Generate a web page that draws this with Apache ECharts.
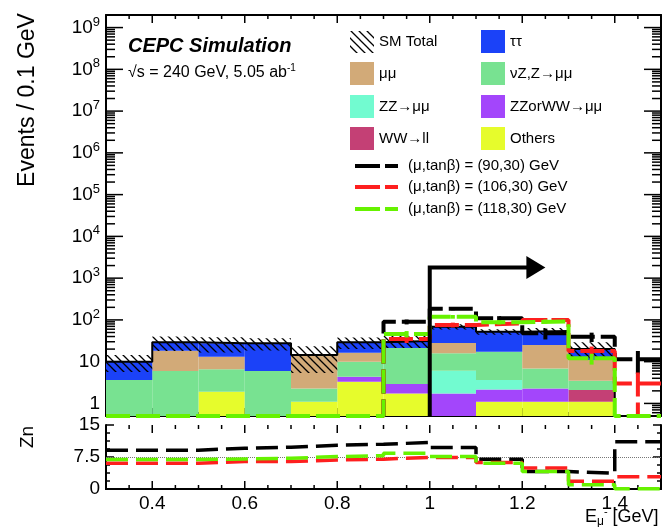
<!DOCTYPE html>
<html><head><meta charset="utf-8">
<script src="https://cdn.jsdelivr.net/npm/echarts@6/dist/echarts.min.js"></script>
<style>html,body{margin:0;padding:0;background:#fff}#c{width:662px;height:527px}</style>
</head><body><div id="c"></div>
<script>
// ---------- data ----------
const binEdges = [0.3,0.4,0.5,0.6,0.7,0.8,0.9,1.0,1.1,1.2,1.3,1.4,1.5];
// stacked backgrounds (bottom -> top)
const others  = [0,0,1.9,0,1.09,3.3,1.72,0,1.09,1.09,1.09,0];
const wwll    = [0,0,0,0,0,0,0,0,0,0,1.0,0];
const zzorww  = [0,0,0,0,0,1.04,1.18,1.74,1.08,1.2,0,0];
const zzmumu  = [0,0,0,0,0,0,0,4.31,1.45,0,0,0];
const nuZ     = [3.62,5.95,4.64,5.95,1.2,5.66,18.3,9.95,13.7,4.6,1.4,0];
const mumu    = [0,12.35,6.56,0,12.1,6.3,0,11.8,0,18.1,7.5,0];
const tautau  = [6.4,10.7,14.4,21.5,0,12.7,10.1,40.9,34.8,29,9,0];
const smErr   = [4.4,11,11,9,9,9,10,10,8,10,9,0];
// signals
const sig90   = [0,0,0,0,0,0,90,185,109,48,39.5,11.5];
const sig106  = [0,0,0,0,0,0,35,76,83,100,18,3.0];
const sig118  = [0,0,0,0,0,0,46,119,88,92,12,0];
const sig90Err  = [0,0,0,0,0,0,12,15,14,14,10,6.5];
const sig106Err = [0,0,0,0,0,0,7,10,10,11,5,2.5];
const sig118Err = [0,0,0,0,0,0,8,12,10,10,3.5,0];
// significance panel
const zn90  = [9.1,9.1,9.55,9.8,10.25,10.5,10.9,9.7,7.0,4.1,3.7,11.1];
const zn106 = [6.05,6.05,6.45,6.45,6.8,7.0,7.4,7.4,6.2,4.9,1.8,2.9];
const zn118 = [6.9,6.9,7.05,7.2,7.6,7.8,8.4,7.6,6.05,4.1,1.0,0.05];
const znRef = 7.5;
// cut arrow
const cutValue = 1.0, arrowY = 1800, arrowEnd = 1.25;
// axes / ticks
const xMajorTicks = [0.4,0.6,0.8,1.0,1.2,1.4];
const xMinorStep = 0.05;
const logMajorExp = [0,1,2,3,4,5,6,7,8,9];
const logMinorMult = [2,3,4,5,6,7,8,9];
const znMajorTicks = [0,7.5,15];
const znMinorStep = 1.875;
const YMIN = 0.5, YMAX = 2e9;

// ---------- styling ----------
const FONT = "'Liberation Sans', Arial, Helvetica, sans-serif";
const C = {
  others:'#e6fc2c', wwll:'#c44075', zzorww:'#a346fb', zzmumu:'#72fbd0',
  nuZ:'#78e291', mumu:'#d2aa78', tautau:'#1b42f8',
  s90:'#000000', s106:'#fe1f1f', s118:'#66f200'
};
const DASH = [24,6];
const TICK_W = 1.5;

function makeHatch(){
  const c = document.createElement('canvas'); c.width = 8; c.height = 8;
  const g = c.getContext('2d'); g.strokeStyle = '#000'; g.lineWidth = 1.3;
  g.beginPath(); g.moveTo(-2,-2); g.lineTo(10,10); g.moveTo(-2,6); g.lineTo(2,10); g.moveTo(6,-2); g.lineTo(10,2); g.stroke();
  return c;
}
const hatch = {image: makeHatch(), repeat: 'repeat'};

// ---------- build stacks ----------
const comps = [
  {vals: others, color: C.others}, {vals: wwll, color: C.wwll}, {vals: zzorww, color: C.zzorww},
  {vals: zzmumu, color: C.zzmumu}, {vals: nuZ, color: C.nuZ}, {vals: mumu, color: C.mumu}, {vals: tautau, color: C.tautau}
];
const cum = binEdges.slice(0,-1).map(() => 0);
comps.forEach(c => {
  c.data = c.vals.map((v,i) => { const lo = cum[i], hi = cum[i] + v; cum[i] = hi; return [binEdges[i], binEdges[i+1], lo, hi]; });
});
const smTotal = cum.slice();

function rectSeries(data, fill, z){
  return {type:'custom', xAxisIndex:0, yAxisIndex:0, z:z, silent:true, data:data,
    encode:{x:[0,1], y:[2,3]},
    renderItem:(p, api) => {
      const lo = Math.max(api.value(2), YMIN), hi = api.value(3);
      if (!(hi > lo)) return null;
      const a = api.coord([api.value(0), hi]), b = api.coord([api.value(1), lo]);
      return {type:'rect', shape:{x:a[0], y:a[1], width:b[0]-a[0], height:b[1]-a[1]}, style:{fill:fill, stroke:null}};
    }};
}
function stepData(vals, floor){
  const f = v => floor != null ? Math.max(v, floor) : v;
  const d = vals.map((v,i) => [binEdges[i], f(v)]);
  d.push([binEdges[binEdges.length-1], f(vals[vals.length-1])]);
  return d;
}
function stepLine(vals, color, width, dash, xi, yi, floor, z){
  return {type:'line', xAxisIndex:xi, yAxisIndex:yi, step:'end', data:stepData(vals, floor), showSymbol:false, symbol:'none',
    clip:false, silent:true, z:z, lineStyle:{color:color, width:width, type:dash, cap:'butt'}};
}
function errSeries(vals, errs, color, z){
  const d = [];
  vals.forEach((v,i) => { if (errs[i] > 0) d.push([(binEdges[i]+binEdges[i+1])/2, v, errs[i]]); });
  return {type:'custom', xAxisIndex:0, yAxisIndex:0, z:z, silent:true, data:d, encode:{x:0, y:1},
    renderItem:(p, api) => {
      const x = api.value(0), v = api.value(1), e = api.value(2);
      const a = api.coord([x, v + e]), b = api.coord([x, Math.max(v - e, YMIN)]);
      return {type:'line', shape:{x1:a[0], y1:a[1], x2:b[0], y2:b[1]}, style:{stroke:color, lineWidth:4, lineDash:DASH}};
    }};
}
const hatchData = smTotal.map((t,i) => [binEdges[i], binEdges[i+1], t - smErr[i], t + smErr[i]]).filter(r => r[3] > 0);

// tick marks (positions come from the axis scale via api.coord)
const logTickRows = [];
logMajorExp.forEach(n => logTickRows.push([0.3, 1.5, Math.pow(10, n), 17]));
for (let n = -1; n <= 9; n++) logMinorMult.forEach(m => { const v = m*Math.pow(10, n); if (v > YMIN && v < YMAX) logTickRows.push([0.3, 1.5, v, 9]); });
const xTickRows = [];
for (let k = 0; k <= 24; k++) { const v = +(0.3 + k*xMinorStep).toFixed(2); xTickRows.push([v, YMIN, YMAX, xMajorTicks.some(t => Math.abs(t - v) < 1e-6) ? 8 : 4]); }
const zxTickRows = xTickRows.map(r => [r[0], 0, 15, r[3]]);
const zyTickRows = [];
for (let k = 0; k <= 8; k++) { const v = k*znMinorStep; zyTickRows.push([0.3, 1.5, v, znMajorTicks.some(t => Math.abs(t - v) < 1e-6) ? 8 : 4]); }

function hTickSeries(rows, xi, yi){
  return {type:'custom', xAxisIndex:xi, yAxisIndex:yi, z:1, silent:true, data:rows, encode:{x:[0,1], y:2},
    renderItem:(p, api) => {
      const a = api.coord([api.value(0), api.value(2)]), b = api.coord([api.value(1), api.value(2)]), len = api.value(3);
      return {type:'group', children:[
        {type:'line', shape:{x1:a[0], y1:a[1], x2:a[0]+len, y2:a[1]}, style:{stroke:'#000', lineWidth:TICK_W}},
        {type:'line', shape:{x1:b[0]-len, y1:b[1], x2:b[0], y2:b[1]}, style:{stroke:'#000', lineWidth:TICK_W}}]};
    }};
}
function vTickSeries(rows, xi, yi){
  return {type:'custom', xAxisIndex:xi, yAxisIndex:yi, z:1, silent:true, data:rows, encode:{x:0, y:[1,2]},
    renderItem:(p, api) => {
      const a = api.coord([api.value(0), api.value(1)]), b = api.coord([api.value(0), api.value(2)]), len = api.value(3);
      return {type:'group', children:[
        {type:'line', shape:{x1:a[0], y1:a[1], x2:a[0], y2:a[1]-len}, style:{stroke:'#000', lineWidth:TICK_W}},
        {type:'line', shape:{x1:b[0], y1:b[1], x2:b[0], y2:b[1]+len}, style:{stroke:'#000', lineWidth:TICK_W}}]};
    }};
}

// ---------- axes ----------
const FRAME = {show:true, lineStyle:{color:'#000', width:2}};
function xAx(grid, pos, labels){
  return {type:'value', gridIndex:grid, position:pos, min:0.3, max:1.5,
    axisLine:FRAME, axisTick:{show:false}, minorTick:{show:false}, splitLine:{show:false},
    axisLabel: labels ? {show:true, customValues:xMajorTicks, margin:5, color:'#000', fontSize:19, fontFamily:FONT,
                         formatter: v => String(+(+v).toFixed(1))} : {show:false}};
}
const logLabel = {
  show:true, margin:6, color:'#000', fontFamily:FONT, fontSize:19,
  formatter: v => { const e = Math.log10(v), n = Math.round(e); if (Math.abs(e-n) > 1e-6 || n < 0) return '';
    if (n === 0) return '{b|1}'; if (n === 1) return '{b|10}'; return '{b|10}{s|' + n + '}'; },
  rich:{ b:{fontSize:19, lineHeight:24, fontFamily:FONT, color:'#000'},
         s:{fontSize:13, lineHeight:13, verticalAlign:'top', fontFamily:FONT, color:'#000'} }
};
function logAx(pos, label){
  return {type:'log', logBase:10, gridIndex:0, position:pos, min:YMIN, max:YMAX,
    axisLine:FRAME, axisTick:{show:false}, minorTick:{show:false}, splitLine:{show:false},
    axisLabel: label ? logLabel : {show:false}};
}
function znAx(pos, label){
  return {type:'value', gridIndex:1, position:pos, min:0, max:15, interval:7.5,
    axisLine:FRAME, axisTick:{show:false}, minorTick:{show:false}, splitLine:{show:false},
    axisLabel: label ? {show:true, margin:6, color:'#000', fontSize:19, fontFamily:FONT} : {show:false}};
}

const graphics = [
  {type:'text', z:20, x:28, y:100, rotation:Math.PI/2, style:{text:'Events / 0.1 GeV', fill:'#000', fontSize:23, fontFamily:FONT, align:'center', verticalAlign:'middle', textAlign:'center', textVerticalAlign:'middle'}},
  {type:'text', z:20, x:28, y:437, rotation:Math.PI/2, style:{text:'Zn', fill:'#000', fontSize:19, fontFamily:FONT, align:'center', verticalAlign:'middle', textAlign:'center', textVerticalAlign:'middle'}},
  {type:'text', z:20, x:585, y:517, style:{text:'{e|E}{sub|μ}{sup|-}{e| [GeV]}', fill:'#000', fontFamily:FONT, align:'left', verticalAlign:'middle', textAlign:'left', textVerticalAlign:'middle',
    rich:{e:{fontSize:18, lineHeight:22, fontFamily:FONT}, sub:{fontSize:12, lineHeight:12, verticalAlign:'bottom', fontFamily:FONT}, sup:{fontSize:11, lineHeight:11, verticalAlign:'top', fontFamily:FONT}}}},
  {type:'text', z:20, x:128, y:46, style:{text:'CEPC Simulation', fill:'#000', fontSize:20, fontWeight:'bold', fontStyle:'italic', fontFamily:FONT, align:'left', verticalAlign:'middle', textAlign:'left', textVerticalAlign:'middle'}},
  {type:'text', z:20, x:128, y:73, style:{text:'√s = 240 GeV, 5.05 ab{sup|-1}', fill:'#000', fontSize:16, lineHeight:20, fontFamily:FONT, align:'left', verticalAlign:'middle', textAlign:'left', textVerticalAlign:'middle',
    rich:{sup:{fontSize:10, lineHeight:10, verticalAlign:'top', fontFamily:FONT}}}},
  {type:'rect', z:20, shape:{x:350, y:31, width:24, height:22}, style:{fill:hatch, stroke:null}},
  {type:'rect', z:20, shape:{x:481, y:30, width:24, height:23}, style:{fill:C.tautau}},
  {type:'rect', z:20, shape:{x:350, y:62, width:24, height:23}, style:{fill:C.mumu}},
  {type:'rect', z:20, shape:{x:481, y:62, width:24, height:23}, style:{fill:C.nuZ}},
  {type:'rect', z:20, shape:{x:350, y:95, width:24, height:23}, style:{fill:C.zzmumu}},
  {type:'rect', z:20, shape:{x:481, y:95, width:24, height:23}, style:{fill:C.zzorww}},
  {type:'rect', z:20, shape:{x:350, y:127, width:24, height:23}, style:{fill:C.wwll}},
  {type:'rect', z:20, shape:{x:481, y:127, width:24, height:23}, style:{fill:C.others}},
  ...[['SM Total',379,42],['ττ',510,42],['μμ',379,74],['νZ,Z→μμ',510,74],['ZZ→μμ',379,107],['ZZorWW→μμ',510,107],['WW→ll',379,139],['Others',510,139],
      ['(μ,tanβ) = (90,30) GeV',408,166],['(μ,tanβ) = (106,30) GeV',408,187],['(μ,tanβ) = (118,30) GeV',408,209]].map(t => (
    {type:'text', z:20, x:t[1], y:t[2], style:{text:t[0], fill:'#000', fontSize:15, fontFamily:FONT, align:'left', verticalAlign:'middle', textAlign:'left', textVerticalAlign:'middle'}})),
  ...[[C.s90,166],[C.s106,187],[C.s118,209]].map(l => (
    {type:'line', z:20, shape:{x1:355, y1:l[1], x2:398, y2:l[1]}, style:{stroke:l[0], lineWidth:4, lineDash:[25,5]}}))
];

const option = {
  animation:false, backgroundColor:'#fff',
  grid:[
    {left:106, top:15, width:555, height:401, outerBoundsMode:'none'},
    {left:106, top:425, width:555, height:64, outerBoundsMode:'none'}
  ],
  xAxis:[ xAx(0,'bottom',false), xAx(0,'top',false), xAx(1,'bottom',true), xAx(1,'top',false) ],
  yAxis:[ logAx('left', true), logAx('right', false), znAx('left', true), znAx('right', false) ],
  series:[
    hTickSeries(logTickRows, 0, 0),
    vTickSeries(xTickRows, 0, 0),
    hTickSeries(zyTickRows, 2, 2),
    vTickSeries(zxTickRows, 2, 2),
    ...comps.map(c => rectSeries(c.data, c.color, 2)),
    rectSeries(hatchData, hatch, 3),
    stepLine(smTotal, '#000', 2, 'solid', 0, 0, YMIN, 5),
    stepLine(sig90, C.s90, 4, DASH, 0, 0, YMIN, 6),
    errSeries(sig90, sig90Err, C.s90, 6),
    stepLine(sig106, C.s106, 4, DASH, 0, 0, YMIN, 7),
    errSeries(sig106, sig106Err, C.s106, 7),
    stepLine(sig118, C.s118, 4, DASH, 0, 0, YMIN, 8),
    errSeries(sig118, sig118Err, C.s118, 8),
    {type:'custom', xAxisIndex:0, yAxisIndex:0, z:9, silent:true, data:[[cutValue, arrowY, arrowEnd]], encode:{x:[0,2], y:1},
     renderItem:(p, api) => {
       const base = api.coord([api.value(0), YMIN]), corner = api.coord([api.value(0), api.value(1)]), tip = api.coord([api.value(2), api.value(1)]);
       const hl = 19, hw = 11.5;
       return {type:'group', children:[
         {type:'polyline', shape:{points:[base, corner, [tip[0]-hl+2, tip[1]]]}, style:{stroke:'#000', lineWidth:4, fill:null}},
         {type:'polygon', shape:{points:[[tip[0], tip[1]], [tip[0]-hl, tip[1]-hw], [tip[0]-hl, tip[1]+hw]]}, style:{fill:'#000'}}]};
     }},
    Object.assign(stepLine(zn90, C.s90, 3.5, [22,8], 2, 2, null, 6), {
      markLine:{silent:true, symbol:'none', label:{show:false}, lineStyle:{type:'dotted', color:'#777', width:1}, data:[{yAxis:znRef}]}}),
    stepLine(zn106, C.s106, 3.5, [22,8], 2, 2, null, 7),
    stepLine(zn118, C.s118, 3.5, [22,8], 2, 2, null, 8)
  ],
  graphic: graphics
};
const chart = echarts.init(document.getElementById('c'), null, {renderer:'canvas'});
chart.setOption(option);
</script></body></html>
